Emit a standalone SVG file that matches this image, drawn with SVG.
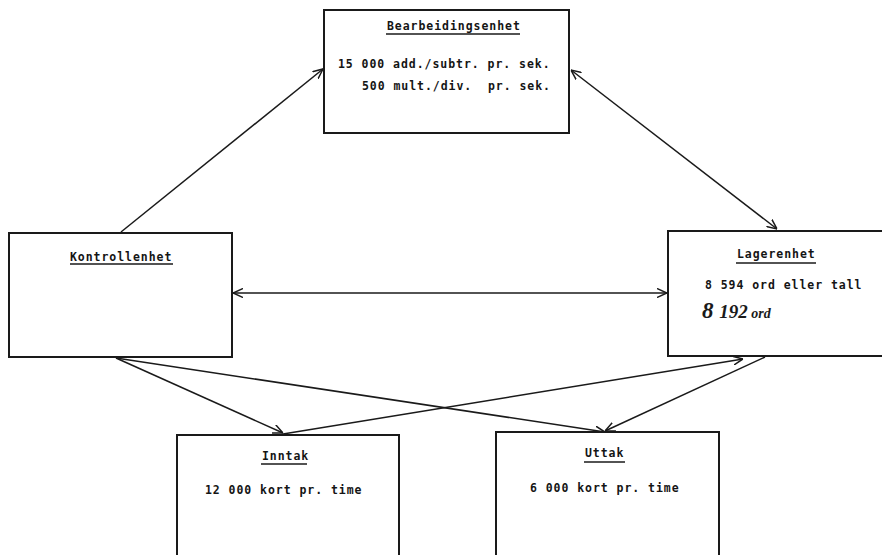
<svg xmlns="http://www.w3.org/2000/svg" width="882" height="555" viewBox="0 0 882 555">
<style>
.box{fill:#fff;stroke:#1a1a1a;stroke-width:2}
.t{font-family:"DejaVu Sans Mono","Liberation Mono",monospace;font-size:11.5px;font-weight:bold;letter-spacing:0.95px;fill:#151515;white-space:pre}
.ul{stroke:#1a1a1a;stroke-width:1.4}
.c{stroke:#1a1a1a;stroke-width:1.5;fill:none}
.hw{font-family:"Liberation Serif","DejaVu Serif",serif;font-style:italic;font-weight:bold;fill:#1a1a1a}
</style>
<defs>
<marker id="ah" viewBox="0 0 10 10" refX="10" refY="5" markerWidth="10" markerHeight="10" markerUnits="userSpaceOnUse" orient="auto-start-reverse">
<path d="M0,0.5 L10,5 L0,9.5" fill="none" stroke="#1a1a1a" stroke-width="1.5"/>
</marker>
</defs>
<rect width="882" height="555" fill="#fff"/>
<g id="connectors">
<line class="c" x1="121" y1="232" x2="323" y2="69" marker-end="url(#ah)"/>
<line class="c" x1="571" y1="70" x2="777" y2="229" marker-start="url(#ah)" marker-end="url(#ah)"/>
<line class="c" x1="233" y1="293" x2="667" y2="293" marker-start="url(#ah)" marker-end="url(#ah)"/>
<line class="c" x1="116" y1="358" x2="283" y2="433" marker-end="url(#ah)"/>
<line class="c" x1="116" y1="358" x2="605" y2="432" marker-end="url(#ah)"/>
<line class="c" x1="283" y1="434" x2="743" y2="359" marker-end="url(#ah)"/>
<line class="c" x1="765" y1="357" x2="605" y2="431" marker-end="url(#ah)"/>
</g>
<g id="bearbeidingsenhet">
<rect class="box" x="324" y="10" width="245" height="123"/>
<text class="t" x="387" y="30">Bearbeidingsenhet</text>
<line class="ul" x1="386" y1="34" x2="520" y2="34"/>
<text class="t" x="338" y="68">15 000 add./subtr. pr. sek.</text>
<text class="t" x="362" y="90">500 mult./div.  pr. sek.</text>
</g>
<g id="kontrollenhet">
<rect class="box" x="9" y="233" width="223" height="124"/>
<text class="t" x="70" y="261">Kontrollenhet</text>
<line class="ul" x1="70" y1="264" x2="173" y2="264"/>
</g>
<g id="lagerenhet">
<rect class="box" x="668" y="231" width="220" height="125"/>
<text class="t" x="737" y="258">Lagerenhet</text>
<line class="ul" x1="736" y1="263" x2="816" y2="263"/>
<text class="t" x="705" y="289">8 594 ord eller tall</text>
<text class="hw" x="702" y="318" font-size="23">8 <tspan font-size="19">192</tspan><tspan font-size="14"> ord</tspan></text>
</g>
<g id="inntak">
<rect class="box" x="177" y="435" width="222" height="130"/>
<text class="t" x="262" y="460">Inntak</text>
<line class="ul" x1="261" y1="464" x2="307" y2="464"/>
<text class="t" x="205" y="494">12 000 kort pr. time</text>
</g>
<g id="uttak">
<rect class="box" x="496" y="432" width="223" height="133"/>
<text class="t" x="585" y="457">Uttak</text>
<line class="ul" x1="584" y1="462" x2="625" y2="462"/>
<text class="t" x="530" y="492">6 000 kort pr. time</text>
</g>
</svg>
